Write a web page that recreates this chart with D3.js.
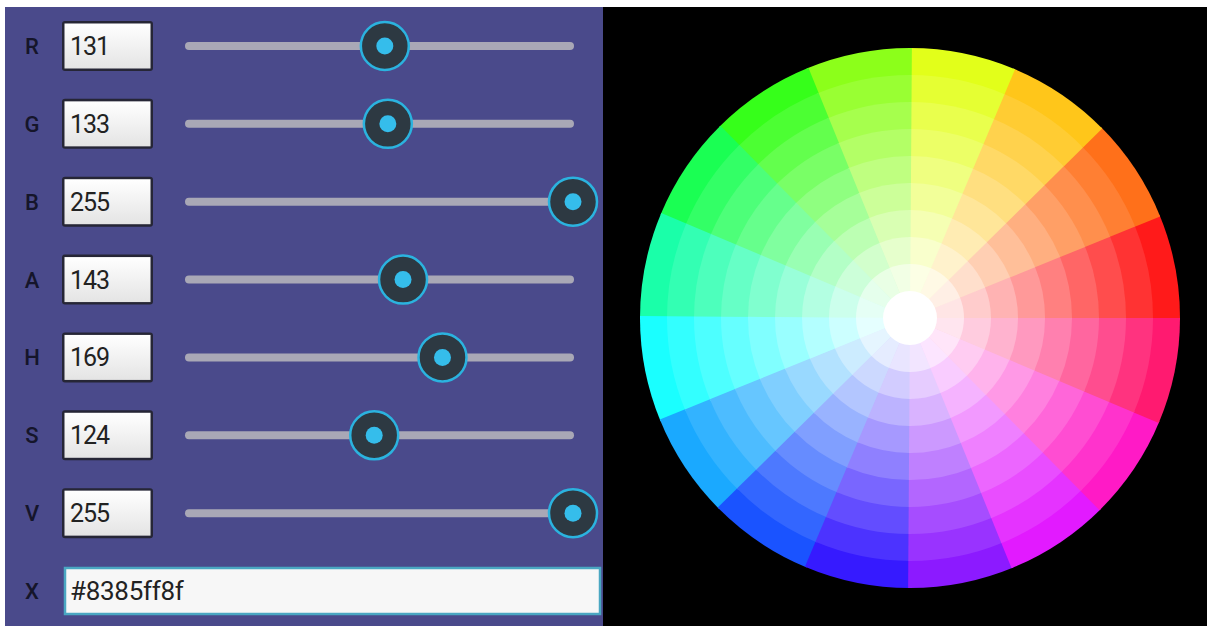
<!DOCTYPE html>
<html><head><meta charset="utf-8">
<script src="https://cdn.jsdelivr.net/npm/d3@7"></script>
<style>html,body{margin:0;padding:0;background:#fff;}svg{display:block;}</style>
</head><body>
<svg id="c" width="1207" height="626"></svg>
<script>
// ---- data ----
const channels = ["R","G","B","A","H","S","V"];
const channelValues = [131,133,255,143,169,124,255];
const hexLabel = "X";
const hexValue = "#8385ff8f";
const wheelHues = [0,22.5,45,67.5,90,112.5,135,157.5,180,202.5,225,247.5,270,292.5,315,337.5];
const wheelSats = [0,0.1,0.2,0.3,0.4,0.5,0.6,0.7,0.8,0.9];

const svg = d3.select("#c");
const defs = svg.append("defs");
const g1 = defs.append("linearGradient").attr("id","boxg").attr("x1",0).attr("y1",0).attr("x2",0).attr("y2",1);
g1.append("stop").attr("offset","0%").attr("stop-color","#ffffff");
g1.append("stop").attr("offset","100%").attr("stop-color","#e4e4e4");

// panels
svg.append("rect").attr("x",5).attr("y",7).attr("width",598).attr("height",619).attr("fill","#4a4a8b");
svg.append("rect").attr("x",603).attr("y",7).attr("width",604).attr("height",619).attr("fill","#000");

// scales
const rowY = d3.scaleLinear().domain([0,7]).range([46,591]);
const sx = d3.scaleLinear().domain([0,255]).range([186,573]);

const rows = svg.append("g").selectAll("g").data(channels).join("g")
  .attr("transform",(d,i)=>`translate(0,${rowY(i)})`);
rows.append("text").attr("x",32).attr("y",8).attr("text-anchor","middle")
  .attr("font-family","Roboto, sans-serif").attr("font-weight",500).attr("font-size",22)
  .attr("fill","#15152a").text(d=>d);
rows.append("rect").attr("x",62).attr("y",-25).attr("width",91).attr("height",50).attr("rx",3)
  .attr("fill","#262636");
rows.append("rect").attr("x",64.5).attr("y",-22.5).attr("width",86).attr("height",45)
  .attr("fill","url(#boxg)");
rows.append("text").attr("x",70).attr("y",9).attr("font-family","Roboto, sans-serif")
  .attr("font-size",25).attr("letter-spacing",-1).attr("fill","#222").text((d,i)=>channelValues[i]);
rows.append("line").attr("x1",sx(0)+3).attr("x2",sx(255)-3).attr("y1",0).attr("y2",0)
  .attr("stroke","#a9a8b6").attr("stroke-width",8).attr("stroke-linecap","round");
rows.append("circle").attr("cx",(d,i)=>sx(channelValues[i])).attr("cy",0).attr("r",24)
  .attr("fill","#2d3942").attr("stroke","#2bb3df").attr("stroke-width",2.5);
rows.append("circle").attr("cx",(d,i)=>sx(channelValues[i])).attr("cy",0).attr("r",8.5)
  .attr("fill","#35bdeb");

// hex row
const hx = svg.append("g").attr("transform",`translate(0,${rowY(7)})`);
hx.append("text").attr("x",32).attr("y",8).attr("text-anchor","middle")
  .attr("font-family","Roboto, sans-serif").attr("font-weight",500).attr("font-size",22)
  .attr("fill","#15152a").text(hexLabel);
hx.append("rect").attr("x",65).attr("y",-23).attr("width",535).attr("height",46)
  .attr("fill","#f7f7f7").attr("stroke","#4aa7c2").attr("stroke-width",2.5);
hx.append("text").attr("x",70).attr("y",9).attr("font-family","Roboto, sans-serif")
  .attr("font-size",26).attr("letter-spacing",-0.3).attr("fill","#222").text(hexValue);

// color wheel
const cx = 910, cy = 318;
const rScale = d3.scaleLinear().domain([0, wheelSats.length]).range([0, 270]);
const cells = [];
wheelSats.slice().reverse().forEach(s=>{
  const k = wheelSats.indexOf(s);
  wheelHues.forEach(h=>{ cells.push({h,s,k}); });
});
const overlap = 0.4;
const arc = d3.arc()
  .innerRadius(0)
  .outerRadius(d=>rScale(d.k+1))
  .startAngle(d=>(90 - d.h - 22.5)*Math.PI/180)
  .endAngle(d=>(90 - d.h + (d.k>0?overlap:0))*Math.PI/180);
const col = d=> d3.hsl(d.h, 1, 1 - d.s/2).formatHex();
const wg = svg.append("g").attr("transform",`translate(${cx},${cy})`);
wg.selectAll("path").data(cells.filter(d=>d.k>0)).join("path")
  .attr("d",arc).attr("fill",col);
wg.append("circle").attr("r",rScale(1)).attr("fill",col({h:0,s:wheelSats[0]}));
</script>
</body></html>
